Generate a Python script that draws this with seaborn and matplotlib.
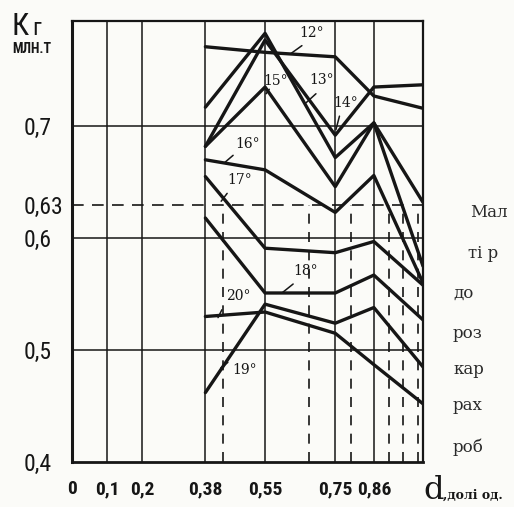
import matplotlib
matplotlib.use("Agg")
import matplotlib.pyplot as plt
from matplotlib import font_manager as fm
import pandas as pd
import seaborn as sns

# Share of the component, d (fractions of a unit): break points of every curve
d_points = [0.38, 0.55, 0.75, 0.86, 1.0]

# K_г, million tonnes, for each angle
k_12 = [0.771, 0.766, 0.762, 0.727, 0.716]
k_13 = [0.717, 0.783, 0.672, 0.703, 0.575]
k_14 = [0.682, 0.777, 0.692, 0.735, 0.737]
k_15 = [0.682, 0.735, 0.646, 0.703, 0.632]
k_16 = [0.670, 0.661, 0.623, 0.656, 0.560]
k_17 = [0.655, 0.591, 0.587, 0.597, 0.558]
k_18 = [0.618, 0.551, 0.551, 0.567, 0.527]
k_19 = [0.462, 0.541, 0.524, 0.538, 0.485]
k_20 = [0.530, 0.534, 0.515, 0.487, 0.452]

angles = ["12°", "13°", "14°", "15°", "16°", "17°", "18°", "19°", "20°"]
curves = [k_12, k_13, k_14, k_15, k_16, k_17, k_18, k_19, k_20]

x_ticks = [0, 0.1, 0.2, 0.38, 0.55, 0.75, 0.86]
x_tick_labels = ["0", "0,1", "0,2", "0,38", "0,55", "0,75", "0,86"]
y_ticks = [0.4, 0.5, 0.6, 0.63, 0.7]
y_tick_labels = ["0,4", "0,5", "0,6", "0,63", "0,7"]

v_grid = [0.1, 0.2, 0.38, 0.55, 0.75, 0.86]
h_grid = [0.5, 0.6, 0.7]

# planned level and the shares where the curves reach it
k_plan = 0.63
d_at_plan = [0.43, 0.675, 0.795, 0.903, 0.943, 0.986]

# curve captions: text position and leader line (d, K)
captions = {
    "12°": ((0.684, 0.783), [(0.655, 0.772), (0.624, 0.765)]),
    "13°": ((0.712, 0.741), [(0.695, 0.729), (0.667, 0.721)]),
    "14°": ((0.781, 0.721), [(0.762, 0.709), (0.752, 0.697)]),
    "15°": ((0.581, 0.740), [(0.562, 0.733), (0.553, 0.729)]),
    "16°": ((0.501, 0.684), [(0.459, 0.674), (0.433, 0.667)]),
    "17°": ((0.479, 0.652), [(0.442, 0.640), (0.425, 0.633)]),
    "18°": ((0.667, 0.571), [(0.630, 0.559), (0.598, 0.551)]),
    "19°": ((0.493, 0.482), [(0.444, 0.489), (0.424, 0.484)]),
    "20°": ((0.473, 0.548), [(0.427, 0.536), (0.416, 0.529)]),
}

# side text of the page
side_text = [("Мал", 470, 213), ("ті р", 468, 253), ("до", 453, 293),
             ("роз", 453, 333), ("кар", 453, 370), ("рах", 453, 406),
             ("роб", 453, 447)]

rows = []
for name, ks in zip(angles, curves):
    for d, k in zip(d_points, ks):
        rows.append({"angle": name, "d": d, "K": k})
df = pd.DataFrame(rows)

sns.set_style("white")
available = {f.name for f in fm.fontManager.ttflist}
narrow = next((n for n in ["Liberation Sans Narrow", "Roboto Condensed"]
               if n in available), "DejaVu Sans")
plt.rcParams["font.family"] = ["DejaVu Sans"]

ink = "#161616"
paper = "#fbfbf8"

W, H = 514, 507
fig = plt.figure(figsize=(W / 100, H / 100), dpi=100, facecolor=paper)
ax = fig.add_axes([72 / W, 45 / H, 351 / W, 441 / H], facecolor=paper)

for x in v_grid:
    ax.axvline(x, color=ink, lw=1.1, zorder=1)
for y in h_grid:
    ax.axhline(y, color=ink, lw=1.1, zorder=1)

ax.axhline(k_plan, color=ink, lw=1.2, dashes=(7, 5), zorder=1)
ax.vlines(d_at_plan, 0.4, k_plan, colors=ink, lw=1.2,
          linestyles=[(0, (6, 5))], zorder=1)

sns.lineplot(data=df, x="d", y="K", hue="angle", palette=[ink] * len(angles),
             estimator=None, sort=False, legend=False, lw=2.4, ax=ax, zorder=3)

for name, ((tx, ty), leader) in captions.items():
    ax.text(tx, ty, name, ha="center", va="center", fontsize=10,
            family="DejaVu Serif", color=ink, zorder=4)
    ax.plot([p[0] for p in leader], [p[1] for p in leader], color=ink,
            lw=1.1, zorder=4)

ax.set_xlim(0, 1.0)
ax.set_ylim(0.4, 0.794)
ax.set_xticks(x_ticks)
ax.set_xticklabels(x_tick_labels, family=narrow, fontsize=14,
                   fontweight="bold", color=ink)
ax.set_yticks(y_ticks)
ax.set_yticklabels(y_tick_labels, family=narrow, fontsize=17, color=ink)
for lab in ax.get_yticklabels():
    lab.set_ha("left")
ax.tick_params(axis="x", length=0, pad=13)
ax.tick_params(axis="y", length=0, pad=35)
ax.set_xlabel("")
ax.set_ylabel("")

for side, lw in (("left", 2.2), ("bottom", 2.0), ("top", 1.6), ("right", 1.6)):
    ax.spines[side].set_visible(True)
    ax.spines[side].set_color(ink)
    ax.spines[side].set_linewidth(lw)

# axis captions
fig.text(12 / W, 1 - 35 / H, "К", fontsize=22, color=ink, family=narrow)
fig.text(32 / W, 1 - 35 / H, "г", fontsize=17, color=ink, family=narrow)
fig.text(12 / W, 1 - 53 / H, "МЛН.Т", fontsize=10, color=ink,
         fontweight="bold", family=narrow)
fig.text(423 / W, 1 - 499 / H, "d", fontsize=23, color=ink,
         family="DejaVu Serif", va="baseline")
fig.text(443 / W, 1 - 499 / H, ",долі од.", fontsize=9, color=ink,
         fontweight="bold", family="DejaVu Serif", va="baseline")

for s, px, py in side_text:
    fig.text(px / W, 1 - py / H, s, fontsize=12, color="#2a2a2a",
             family="DejaVu Serif", va="center")

fig.savefig("out.png", dpi=100, facecolor=paper)
